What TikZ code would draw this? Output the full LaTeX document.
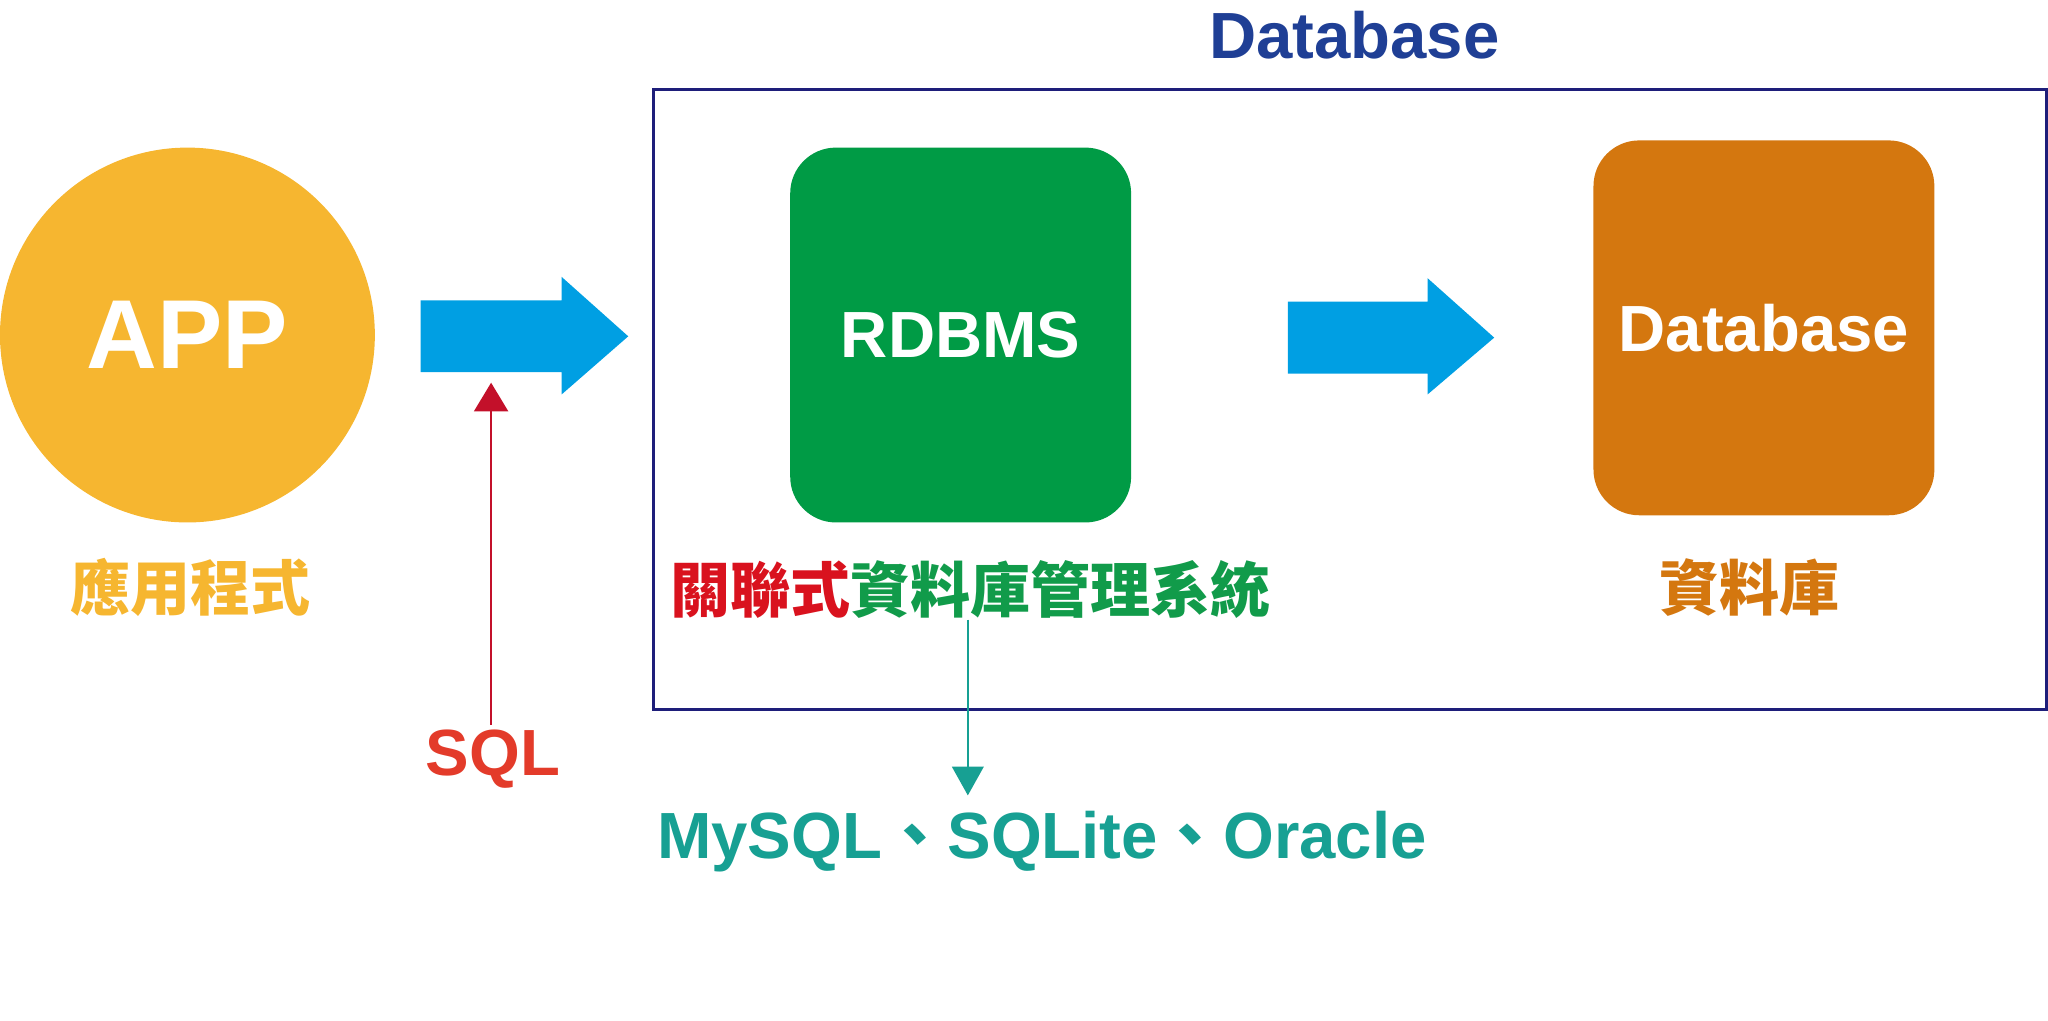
\documentclass[tikz,border=0pt]{standalone}
\usepackage{fontspec}
\setmainfont{Liberation Sans}
\newfontfamily\cjk{Noto Sans CJK TC}
\usetikzlibrary{arrows.meta}
\definecolor{appyellow}{HTML}{F6B630}
\definecolor{arrowblue}{HTML}{009FE3}
\definecolor{rdbgreen}{HTML}{009B45}
\definecolor{dborange}{HTML}{D4770F}
\definecolor{titleblue}{HTML}{1F3F95}
\definecolor{boxnavy}{HTML}{1E1E7A}
\definecolor{sqlarrow}{HTML}{C3102A}
\definecolor{sqltext}{HTML}{E33B2A}
\definecolor{cjkred}{HTML}{D9121E}
\definecolor{cjkgreen}{HTML}{119B4A}
\definecolor{tealc}{HTML}{17A093}
\tikzset{
  bigtxt/.style={font=\fontsize{50}{50}\selectfont\bfseries, inner sep=0pt},
  cjktxt/.style={font=\fontsize{46}{46}\selectfont\cjk\bfseries, inner sep=0pt},
  rbox/.style={rounded corners=35pt, inner sep=0pt, text=white,
    minimum width=261pt, minimum height=287pt, font=\fontsize{50}{50}\selectfont\bfseries},
  fatarrow/.style={fill=arrowblue},
}
\begin{document}
\begin{tikzpicture}[x=1pt,y=-1pt]
\useasboundingbox (0,0) rectangle (1568,781);
% title and frame
\node[bigtxt, text=titleblue, anchor=base] (title) at (1037,45) {Database};
\draw[boxnavy, line width=2.4pt] (500,68.5) rectangle (1566.5,543) coordinate (frame);
% APP
\node[circle, fill=appyellow, minimum size=287pt, inner sep=0pt, text=white,
      font=\fontsize{75}{75}\selectfont\bfseries] (app) at (143.5,256.5) {APP};
\node[cjktxt, text=appyellow] (applbl) at (146,450) {應用程式};
% boxes
\node[rbox, fill=rdbgreen] (rdbms) at (735.5,256.5) {RDBMS};
\node[rbox, fill=dborange] (db) at (1350.5,251) {Database};
\node[cjktxt] (rdbmslbl) at (743,451) {\textcolor{cjkred}{關聯式}\textcolor{cjkgreen}{資料庫管理系統}};
\node[cjktxt, text=dborange] (dblbl) at (1339.5,450) {資料庫};
% fat arrows
\coordinate (a1) at (322,257.5);
\fill[fatarrow] (a1) ++(0,-27.5) -- ++(108,0) -- ++(0,-18) -- (481,257.5) -- (430,302) -- ++(0,-17) -- (322,285) -- cycle;
\coordinate (a2) at (986,258.5);
\fill[fatarrow] (a2) ++(0,-27.5) -- ++(107,0) -- ++(0,-18) -- (1144,258.5) -- (1093,302) -- ++(0,-16) -- (986,286) -- cycle;
% SQL
\node[bigtxt, text=sqltext, anchor=base] (sql) at (377.5,594) {SQL};
\coordinate (sqltip) at (376,293);
\draw[sqlarrow, line width=2pt, -{Triangle[length=22pt,width=26pt]}] (sql.north -| sqltip) ++(0,-4) -- (sqltip);
% MySQL
\node[bigtxt, text=tealc, anchor=base west] (mysql) at (503,657) {MySQL{\cjk 、}SQLite{\cjk 、}Oracle};
\coordinate (tealtip) at (741,609);
\draw[tealc, line width=2pt, -{Triangle[length=22pt,width=24pt]}] (rdbmslbl.south -| tealtip) ++(0,1) -- (tealtip);
\end{tikzpicture}
\end{document}
